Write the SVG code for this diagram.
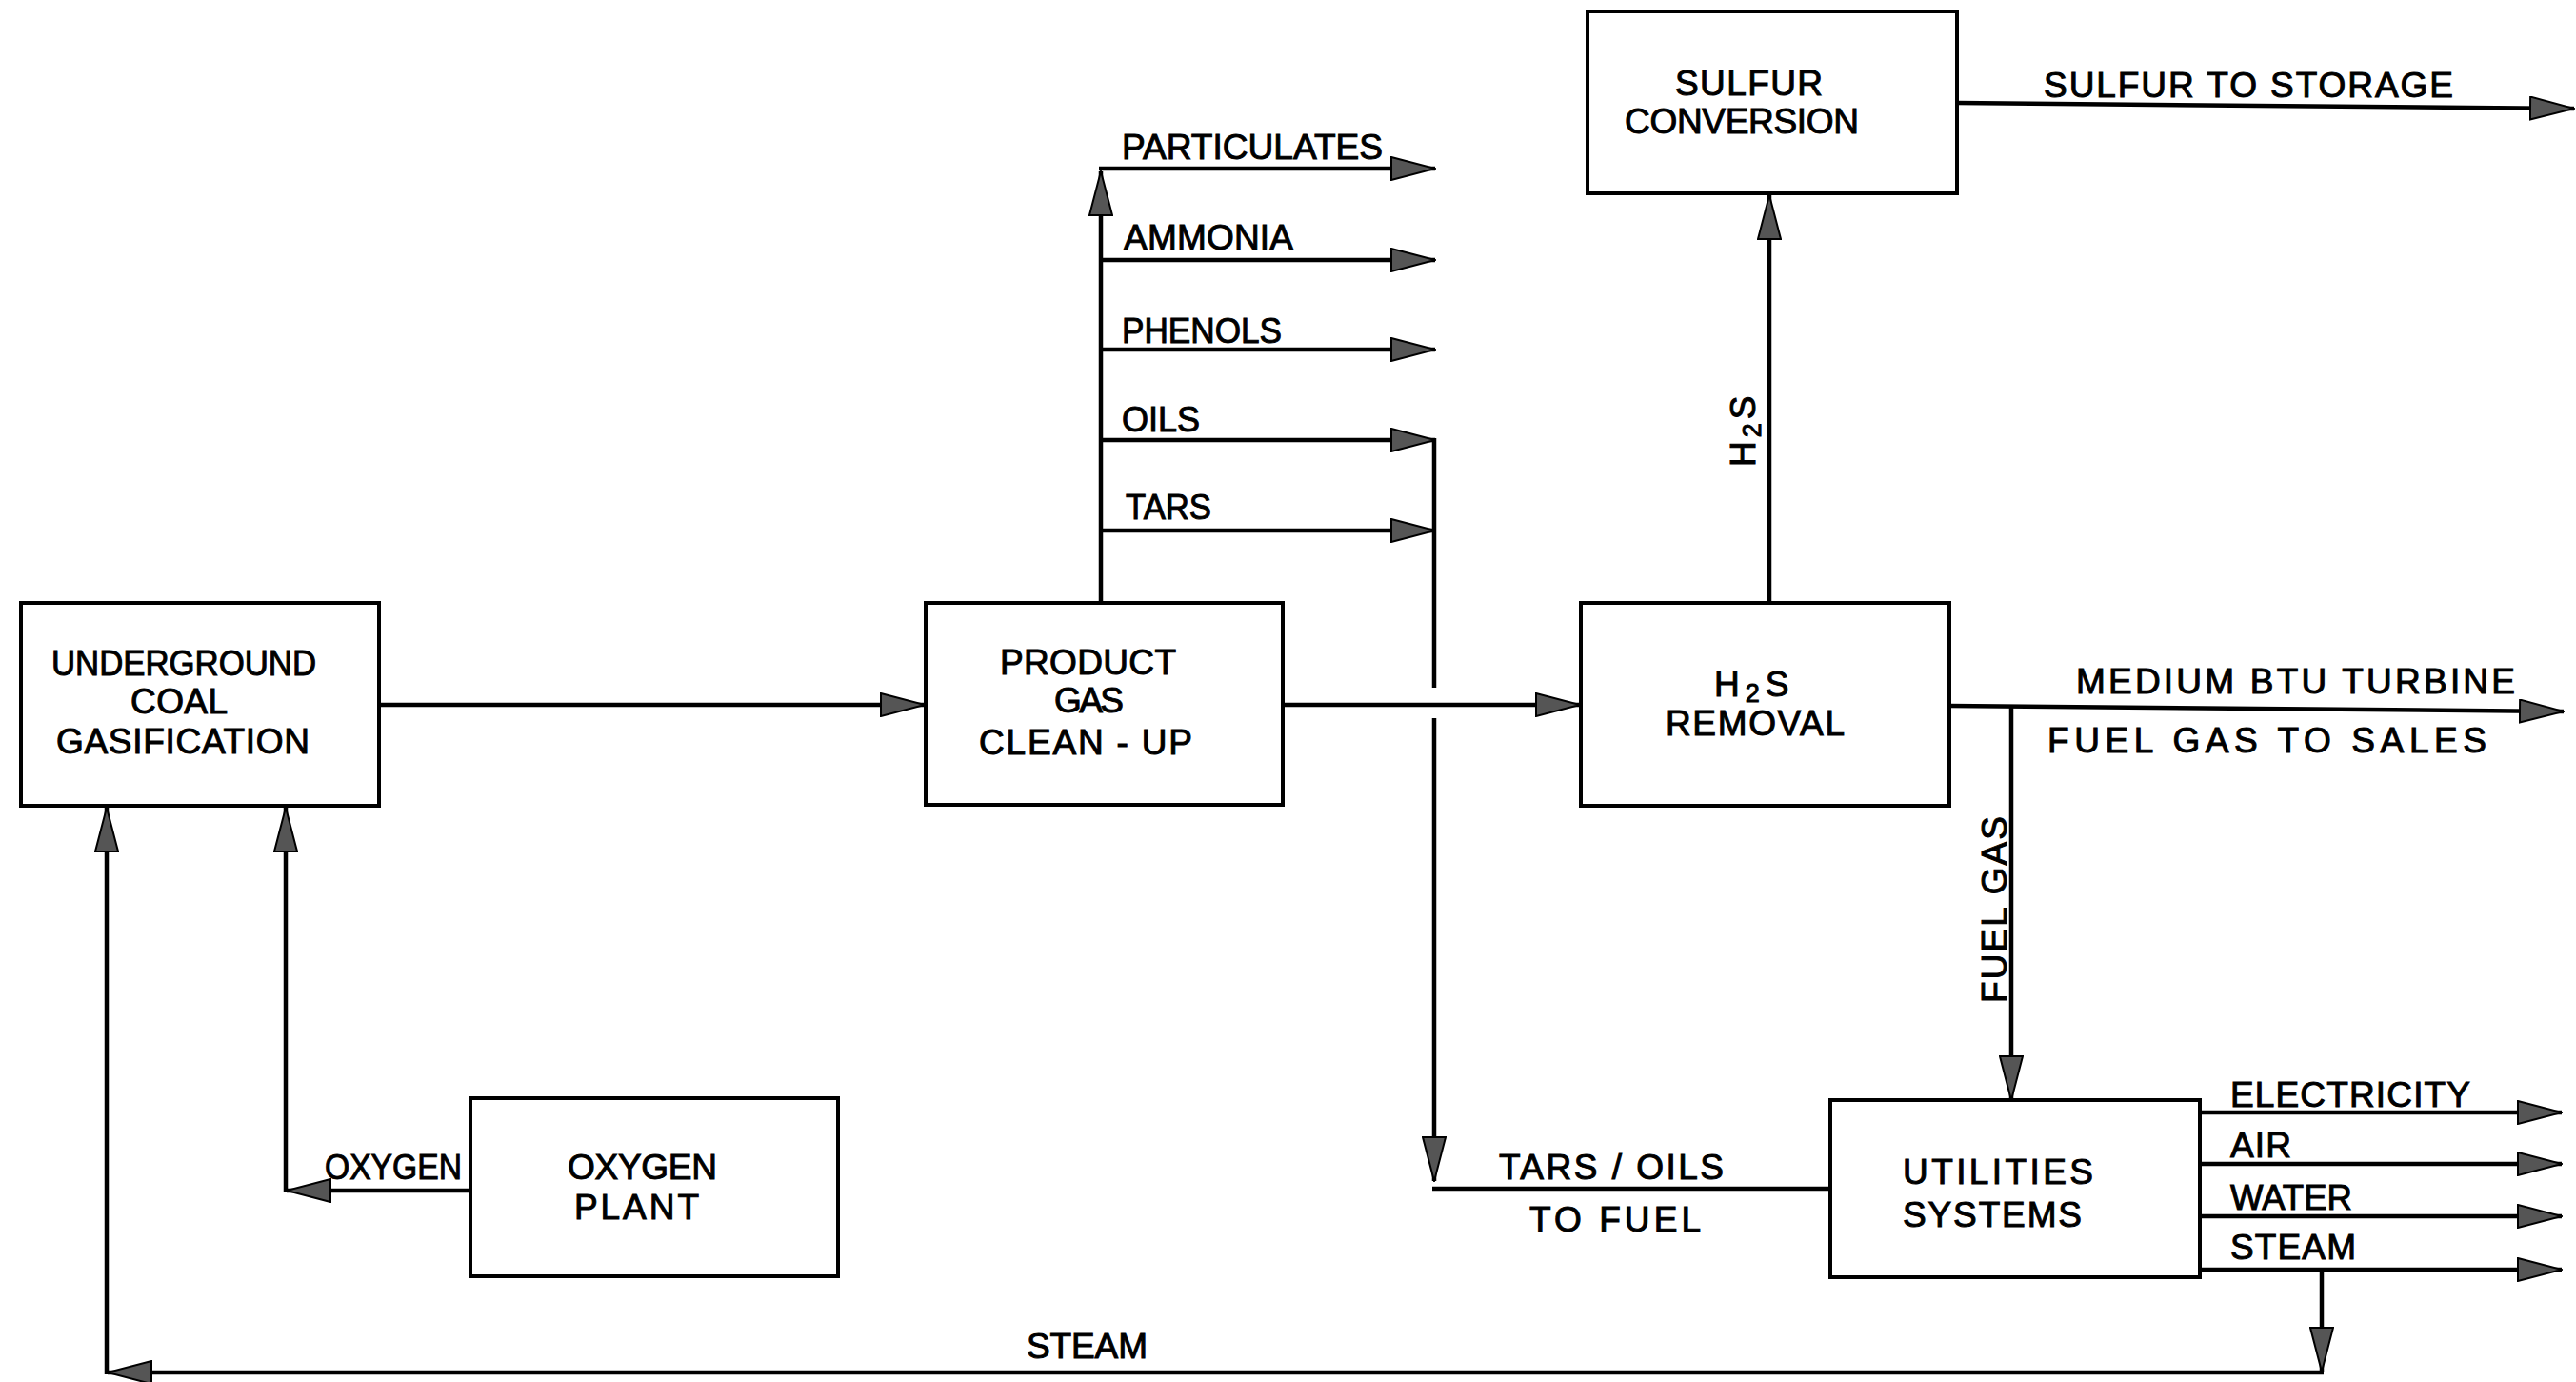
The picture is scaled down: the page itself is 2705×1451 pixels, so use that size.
<svg xmlns="http://www.w3.org/2000/svg" width="2705" height="1451" viewBox="0 0 2705 1451">
<defs>
<style>
.box{fill:#fff;stroke:#000;stroke-width:4}
.ln{fill:none;stroke:#000;stroke-width:4.5}
.ar{fill:none;stroke:#000;stroke-width:4.5;marker-end:url(#ah)}
text{font-family:"Liberation Sans",Arial,sans-serif;font-size:37px;fill:#000;stroke:#000;stroke-width:1}
</style>
<marker id="ah" viewBox="0 0 48 26" refX="47" refY="13" markerWidth="48" markerHeight="26" markerUnits="userSpaceOnUse" orient="auto">
<path d="M1,1 L47,13 L1,25 Z" fill="#555" stroke="#000" stroke-width="2"/>
</marker>
</defs>
<rect width="2705" height="1451" fill="#fff"/>

<g id="connectors">
<path class="ar" d="M397,740 H971"/>
<path class="ar" d="M1156,633 V180"/>
<path class="ar" d="M1154,177 H1507"/>
<path class="ar" d="M1156,273 H1507"/>
<path class="ar" d="M1156,367 H1507"/>
<path class="ar" d="M1156,462 H1507"/>
<path class="ar" d="M1156,557 H1507"/>
<path class="ln" d="M1506,460 V722"/>
<path class="ar" d="M1506,754 V1240"/>
<path class="ln" d="M1504,1248 H1922"/>
<path class="ar" d="M1347,740 H1659"/>
<path class="ar" d="M1858,633 V205"/>
<path class="ar" d="M2055,108 L2703,114"/>
<path class="ar" d="M2047,741 L2692,747"/>
<path class="ar" d="M2112,742 V1155"/>
<path class="ar" d="M2310,1168 H2690"/>
<path class="ar" d="M2310,1222 H2690"/>
<path class="ar" d="M2310,1277 H2690"/>
<path class="ar" d="M2310,1333 H2690"/>
<path class="ar" d="M2438,1333 V1440"/>
<path class="ar" d="M2440,1441 H113"/>
<path class="ar" d="M112,1443 V848"/>
<path class="ar" d="M494,1250 H301"/>
<path class="ar" d="M300,1252 V848"/>
</g>

<g id="ucg">
<rect class="box" x="22" y="633" width="376" height="213"/>
<text x="54" y="709" textLength="278" lengthAdjust="spacingAndGlyphs">UNDERGROUND</text>
<text x="137" y="749" textLength="102" lengthAdjust="spacing">COAL</text>
<text x="59" y="791" textLength="266" lengthAdjust="spacing">GASIFICATION</text>
</g>

<g id="pgc">
<rect class="box" x="972" y="633" width="375" height="212"/>
<text x="1050" y="708" textLength="185" lengthAdjust="spacing">PRODUCT</text>
<text x="1107" y="748" textLength="73" lengthAdjust="spacing">GAS</text>
<text x="1028" y="792" textLength="224" lengthAdjust="spacing">CLEAN - UP</text>
</g>

<g id="byproducts">
<text x="1178" y="167" textLength="274" lengthAdjust="spacingAndGlyphs">PARTICULATES</text>
<text x="1180" y="262" textLength="178" lengthAdjust="spacing">AMMONIA</text>
<text x="1178" y="360" textLength="168" lengthAdjust="spacingAndGlyphs">PHENOLS</text>
<text x="1178" y="453" textLength="82" lengthAdjust="spacingAndGlyphs">OILS</text>
<text x="1182" y="545" textLength="90" lengthAdjust="spacingAndGlyphs">TARS</text>
</g>

<g id="h2s-removal">
<rect class="box" x="1660" y="633" width="387" height="213"/>
<text x="1800" y="731">H<tspan font-size="27" dx="6" dy="6">2</tspan><tspan dx="6" dy="-6">S</tspan></text>
<text x="1749" y="772" textLength="188" lengthAdjust="spacing">REMOVAL</text>
</g>

<g id="sulfur-conversion">
<rect class="box" x="1667" y="12" width="388" height="191"/>
<text x="1759" y="100" textLength="155" lengthAdjust="spacing">SULFUR</text>
<text x="1706" y="140" textLength="246" lengthAdjust="spacing">CONVERSION</text>
</g>

<g id="connector-labels">
<text x="2146" y="102" textLength="430" lengthAdjust="spacing">SULFUR  TO  STORAGE</text>
<text x="2180" y="728" textLength="461" lengthAdjust="spacing">MEDIUM  BTU  TURBINE</text>
<text x="2150" y="790" textLength="461" lengthAdjust="spacing">FUEL  GAS  TO  SALES</text>
<text transform="translate(1843,490) rotate(-90)" x="0" y="0">H<tspan font-size="27" dx="4" dy="6">2</tspan><tspan dx="4" dy="-6">S</tspan></text>
<text transform="translate(2107,1053) rotate(-90)" x="0" y="0" textLength="196" lengthAdjust="spacing">FUEL  GAS</text>
<text x="1574" y="1238" textLength="236" lengthAdjust="spacing">TARS / OILS</text>
<text x="1606" y="1293" textLength="180" lengthAdjust="spacing">TO  FUEL</text>
<text x="341" y="1238" textLength="144" lengthAdjust="spacingAndGlyphs">OXYGEN</text>
<text x="1078" y="1426" textLength="127" lengthAdjust="spacing">STEAM</text>
<text x="2342" y="1162" textLength="252" lengthAdjust="spacing">ELECTRICITY</text>
<text x="2342" y="1215" textLength="64" lengthAdjust="spacing">AIR</text>
<text x="2342" y="1270" textLength="128" lengthAdjust="spacingAndGlyphs">WATER</text>
<text x="2342" y="1322" textLength="132" lengthAdjust="spacing">STEAM</text>
</g>

<g id="utilities">
<rect class="box" x="1922" y="1155" width="388" height="186"/>
<text x="1998" y="1243" textLength="200" lengthAdjust="spacing">UTILITIES</text>
<text x="1998" y="1288" textLength="188" lengthAdjust="spacing">SYSTEMS</text>
</g>

<g id="oxygen-plant">
<rect class="box" x="494" y="1153" width="386" height="187"/>
<text x="596" y="1238" textLength="157" lengthAdjust="spacing">OXYGEN</text>
<text x="603" y="1280" textLength="131" lengthAdjust="spacing">PLANT</text>
</g>
</svg>
